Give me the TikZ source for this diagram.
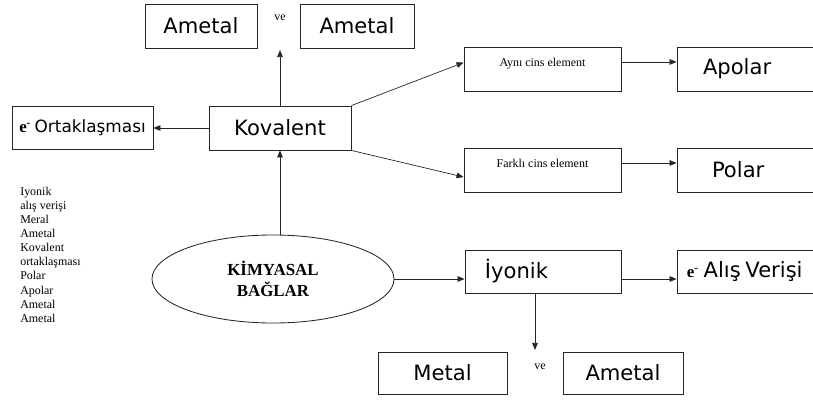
\documentclass[tikz,border=0pt]{standalone}
\usepackage{fontspec}
\setmainfont{Liberation Serif}
\newfontfamily\elyazi{DejaVu Sans}
\usetikzlibrary{arrows.meta,shapes.geometric}

\begin{document}
\begin{tikzpicture}[x=0.025cm,y=-0.025cm,
        kutu/.style={draw=black!85,line width=0.6pt,inner sep=0pt,minimum height=1.1cm},
        el/.style={font=\elyazi\fontsize{15}{18}\selectfont},
        basili/.style={font=\fontsize{8.5}{10}\selectfont},
        ok/.style={draw=black!85,line width=0.5pt,-{Triangle[length=5pt,width=4pt]}}]
    \useasboundingbox (0,0) rectangle (813,401);
    \clip (0,0) rectangle (813,401);
    % kovalent kolu
    \node[kutu,el,minimum width=2.8cm] (amt1) at (201,26) {Ametal};
    \node[basili] (ve1) at (280,18) {ve};
    \node[kutu,el,minimum width=2.85cm] (amt2) at (357,26) {Ametal};
    \node[kutu,minimum width=3.525cm,minimum height=1.075cm] (eort) at (82.5,128)
        {{\bfseries\fontsize{12}{14}\selectfont e\textsuperscript{-}} {\elyazi\fontsize{12}{14}\selectfont Ortaklaşması}};
    \node[kutu,el,minimum width=3.55cm] (kov) at (280,128) {Kovalent};
    \node[kutu,minimum width=3.925cm,
        label={[basili,anchor=north,yshift=-5pt]north:Aynı cins element}] (ayni) at (542.5,69) {};
    \node[kutu,minimum width=3.925cm,
        label={[basili,anchor=north,yshift=-5pt]north:Farklı cins element}] (farkli) at (542.5,170) {};
    \node[kutu,el,inner xsep=0.65cm,text width=2.525cm,align=left] (apolar) at (753.5,69) {Apolar};
    \node[kutu,el,inner xsep=0.875cm,text width=2.075cm,align=left] (polar) at (753.5,170) {Polar};
    % iyonik kolu
    \node[draw=black!85,line width=0.6pt,ellipse,minimum width=6.05cm,minimum height=2.2cm,inner sep=0pt,
        align=center,font=\bfseries\fontsize{12}{15}\selectfont] (kb) at (273,279) {KİMYASAL\\BAĞLAR};
    \node[kutu,el,minimum height=1.075cm,inner xsep=0.5cm,text width=2.9cm,align=left] (iyonik) at (543,271.5) {İyonik};
    \node[kutu,minimum height=1.075cm,inner xsep=0.25cm,text width=3.325cm,align=left] (alis) at (753.5,271.5)
        {{\bfseries\fontsize{12}{14}\selectfont e\textsuperscript{-}} {\elyazi\fontsize{15}{18}\selectfont Alış Verişi}};
    \node[kutu,el,minimum width=3.225cm,minimum height=1.05cm] (metal) at (442.5,373) {Metal};
    \node[basili] (ve2) at (540,367) {ve};
    \node[kutu,el,minimum width=3cm,minimum height=1.05cm] (amt3) at (623,373) {Ametal};
    % kelime listesi
    \node[basili,anchor=north west,align=left,inner sep=0pt] (liste) at (20,187)
        {Iyonik\\alış verişi\\Meral\\Ametal\\Kovalent\\ortaklaşması\\Polar\\Apolar\\Ametal\\Ametal};
    % oklar
    \coordinate (ust) at (280,50);
    \coordinate (alt) at (535,350);
    \draw[ok] (kov.north) -- (ust);
    \draw[ok] (kov.west) -- (eort.east);
    \draw[ok] (kov.south |- kb.north) -- (kov.south);
    \draw[ok] (kov.north east) -- ([yshift=4.6pt]ayni.west);
    \draw[ok] (kov.south east) -- ([yshift=-5pt]farkli.west);
    \draw[ok] ([yshift=5pt]ayni.east) -- ([yshift=5pt]apolar.west);
    \draw[ok] ([yshift=5pt]farkli.east) -- ([yshift=5pt]polar.west);
    \draw[ok] (kb.east) -- (kb.east -| iyonik.west);
    \draw[ok] (kb.east -| iyonik.east) -- (kb.east -| alis.west);
    \draw[ok] (alt |- iyonik.south) -- (alt);
\end{tikzpicture}
\end{document}
